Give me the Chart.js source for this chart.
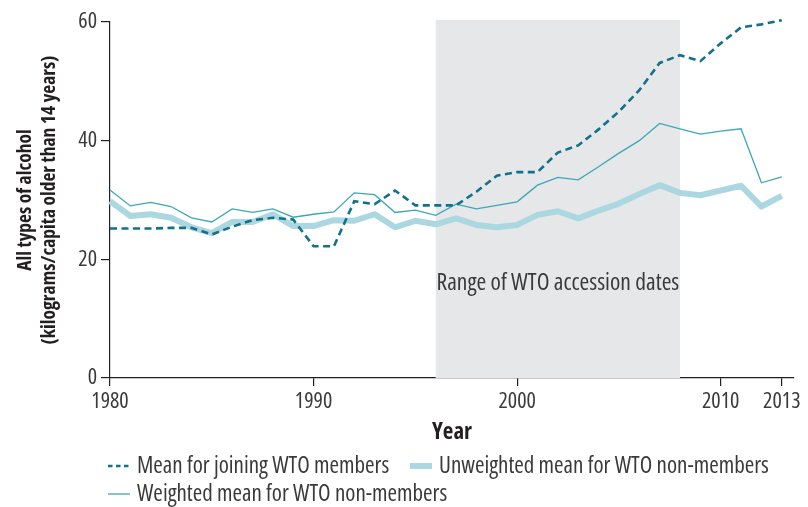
<!DOCTYPE html>
<html>
<head>
<meta charset="utf-8">
<script src="https://cdn.jsdelivr.net/npm/chart.js@4.4.1/dist/chart.umd.min.js"></script>
<style>
  html, body { margin: 0; padding: 0; background: #fff; }
  canvas { display: block; }
</style>
</head>
<body>
<canvas id="chart" width="808" height="507"></canvas>
<script>
/* ─── DATA ─── */
const years = [1980, 1981, 1982, 1983, 1984, 1985, 1986, 1987, 1988, 1989,
  1990, 1991, 1992, 1993, 1994, 1995, 1996, 1997, 1998, 1999,
  2000, 2001, 2002, 2003, 2004, 2005, 2006, 2007, 2008, 2009,
  2010, 2011, 2012, 2013];
const joiningMembers = [25.2, 25.2, 25.2, 25.3, 25.3, 24.2, 25.5, 26.6, 27.0, 26.7,
  22.2, 22.2, 29.8, 29.3, 31.6, 29.1, 29.1, 29.1, 31.4, 34.1,
  34.7, 34.7, 38.0, 39.2, 41.9, 44.9, 48.5, 53.1, 54.4, 53.4,
  56.4, 59.1, 59.6, 60.3];
const unweightedNonMembers = [29.8, 27.3, 27.6, 27.0, 25.4, 24.4, 26.3, 26.3, 27.6, 25.6,
  25.6, 26.6, 26.5, 27.6, 25.4, 26.5, 25.9, 26.9, 25.8, 25.4,
  25.8, 27.5, 28.1, 26.9, 28.2, 29.4, 31.0, 32.5, 31.2, 30.8,
  31.6, 32.4, 28.9, 30.7];
const weightedNonMembers = [31.7, 29.0, 29.6, 28.9, 27.0, 26.3, 28.5, 27.9, 28.5, 27.1,
  27.6, 28.0, 31.2, 30.9, 27.9, 28.3, 27.4, 29.3, 28.5, 29.1,
  29.7, 32.5, 33.8, 33.4, 35.6, 37.9, 40.0, 42.9, 42.0, 41.1,
  41.6, 42.0, 32.9, 33.9];
const xTickValues = [1980, 1990, 2000, 2010, 2013];
const yTickValues = [0, 20, 40, 60];
const seriesNames = ['Mean for joining WTO members', 'Unweighted mean for WTO non-members', 'Weighted mean for WTO non-members'];
const accessionRange = [1996, 2008];
const accessionLabel = 'Range of WTO accession dates';
const yTitle = ['All types of alcohol', '(kilograms/capita older than 14 years)'];
const xTitle = 'Year';

/* ─── STYLE ─── */
// Open Sans with the condensed width stands in for the condensed face of the original
const FONT = "'Open Sans', sans-serif";
const INK = '#3a3a3a';
const AXIS = '#231f20';

const toPoints = vals => years.map((yr, i) => ({ x: yr, y: vals[i] }));

// shaded band for the WTO accession period, with its caption
const accessionBand = {
  id: 'accessionBand',
  beforeDatasetsDraw(chart) {
    const { ctx, chartArea, scales: { x, y } } = chart;
    const x0 = x.getPixelForValue(accessionRange[0]);
    const x1 = x.getPixelForValue(accessionRange[1]);
    const top = chartArea.top - 2, bottom = y.getPixelForValue(0);
    ctx.save();
    ctx.fillStyle = '#e6e7e8';
    ctx.fillRect(x0, top, x1 - x0, bottom - top);
    ctx.fillStyle = '#3a3a3a';
    ctx.font = 'condensed 23.5px ' + FONT;
    ctx.textAlign = 'center';
    ctx.textBaseline = 'middle';
    ctx.fillText(accessionLabel, (x0 + x1) / 2, y.getPixelForValue(16));
    ctx.restore();
  }
};

// legend under the axis: two items on the first row, one on the second
const legendSlots = [{ x: 108, y: 466 }, { x: 410, y: 466 }, { x: 108, y: 494 }];
const bottomLegend = {
  id: 'bottomLegend',
  afterDraw(chart) {
    const { ctx } = chart;
    ctx.save();
    chart.data.datasets.forEach((ds, i) => {
      const s = legendSlots[i];
      ctx.beginPath();
      ctx.strokeStyle = ds.borderColor;
      ctx.lineWidth = ds.borderWidth;
      ctx.setLineDash(ds.borderDash ? [4.5, 3.5] : []);
      ctx.moveTo(s.x, s.y);
      ctx.lineTo(s.x + 22, s.y);
      ctx.stroke();
      ctx.setLineDash([]);
      ctx.fillStyle = INK;
      ctx.font = 'condensed 23px ' + FONT;
      ctx.textAlign = 'left';
      ctx.textBaseline = 'middle';
      ctx.fillText(ds.label, s.x + 29, s.y);
    });
    ctx.restore();
  }
};

new Chart(document.getElementById('chart'), {
  type: 'line',
  data: {
    datasets: [
      { label: seriesNames[0], data: toPoints(joiningMembers), borderColor: '#12718a', borderWidth: 2.6,
        borderDash: [7, 4.5], pointRadius: 0, tension: 0, clip: false, order: 0 },
      { label: seriesNames[1], data: toPoints(unweightedNonMembers), borderColor: '#abd8e0', borderWidth: 6,
        pointRadius: 0, tension: 0, clip: false, order: 2, borderJoinStyle: 'round' },
      { label: seriesNames[2], data: toPoints(weightedNonMembers), borderColor: '#3aa8b8', borderWidth: 1.3,
        pointRadius: 0, tension: 0, clip: false, order: 1 }
    ]
  },
  options: {
    responsive: false,
    animation: false,
    layout: { padding: { top: 22, right: 14, bottom: 61, left: 0 } },
    plugins: { legend: { display: false }, tooltip: { enabled: false } },
    scales: {
      x: {
        type: 'linear', min: 1980, max: 2013.6,
        afterBuildTicks: s => { s.ticks = xTickValues.map(v => ({ value: v })); },
        afterFit: s => { s.height = 68; },
        grid: { drawOnChartArea: false, tickLength: 8, color: AXIS, lineWidth: 1.2 },
        border: { color: AXIS, width: 1.2 },
        ticks: { color: INK, padding: 3, maxRotation: 0, autoSkip: false,
          font: { family: FONT, size: 22, weight: 'condensed' }, callback: v => String(v) },
        title: { display: true, text: xTitle, color: AXIS, padding: { top: 4, bottom: 0 },
          font: { family: FONT, size: 23, weight: 'bold condensed' } }
      },
      y: {
        min: 0, max: 60,
        afterBuildTicks: s => { s.ticks = yTickValues.map(v => ({ value: v })); },
        afterFit: s => { s.width = 110; },
        grid: { drawOnChartArea: false, tickLength: 9, color: AXIS, lineWidth: 1.2 },
        border: { color: AXIS, width: 1.2 },
        ticks: { color: INK, padding: 4, font: { family: FONT, size: 22, weight: 'condensed' } },
        title: { display: true, text: yTitle, color: AXIS, padding: { top: 14, bottom: 0 },
          font: { family: FONT, size: 19.5, weight: 'bold condensed', lineHeight: 1.2 } }
      }
    }
  },
  plugins: [accessionBand, bottomLegend]
});
</script>
</body>
</html>
